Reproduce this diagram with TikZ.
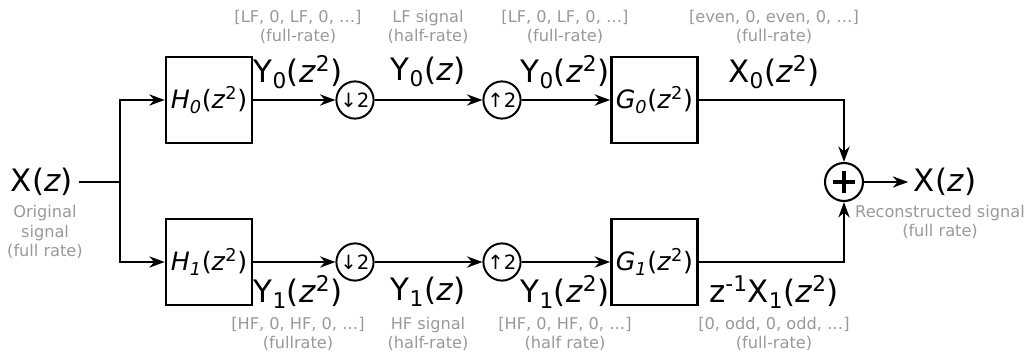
\documentclass[tikz,border=0pt]{standalone}
\usepackage{fontspec}
\setmainfont{DejaVu Sans}
\usetikzlibrary{arrows.meta,positioning}
\newcommand{\zv}{\textit{z}}
\newcommand{\zsq}{(\textit{z}\textsuperscript{2})}

\begin{document}
\begin{tikzpicture}[
  line width=1.5pt,
  flt/.style={draw,line width=1.8pt,minimum size=2.15cm,inner sep=0pt,font=\fontsize{18}{20}\selectfont},
  rate/.style={draw,circle,line width=1.4pt,minimum size=0.93cm,inner sep=0pt,font=\fontsize{14}{16}\selectfont},
  sig/.style={font=\fontsize{22}{25}\selectfont},
  note/.style={align=center,text=black!40,font=\fontsize{11.5}{14}\selectfont},
  sigarrow/.style={-{Stealth[length=11pt,width=8pt]}}
]
\useasboundingbox (0,0) rectangle (25.6,-8.9);

% input and split
\node[sig] (xin) at (1.05,-4.55) {X(\zv)};
\node[note] (xinnote) at (1.125,-5.8) {Original\\signal\\(full rate)};
\coordinate (split) at (3,-4.55);

% analysis filters, down- and upsamplers, synthesis filters
\node[flt] (h0) at (5.225,-2.5)  {\textit{H\textsubscript{0}}\zsq};
\node[flt] (h1) at (5.225,-6.55) {\textit{H\textsubscript{1}}\zsq};
\node[rate] (d0) at (8.875,-2.5)  {↓2};
\node[rate] (d1) at (8.875,-6.55) {↓2};
\node[rate] (u0) at (12.55,-2.5)  {↑2};
\node[rate] (u1) at (12.55,-6.55) {↑2};
\node[flt] (g0) at (16.36,-2.5)  {\textit{G\textsubscript{0}}\zsq};
\node[flt] (g1) at (16.36,-6.55) {\textit{G\textsubscript{1}}\zsq};

% summing junction and output
\node[draw,circle,line width=1.5pt,minimum size=0.95cm,inner sep=0pt] (sum) at (21.1,-4.55) {};
\draw[line width=3pt] ([xshift=-0.27cm]sum.center) -- ([xshift=0.27cm]sum.center);
\draw[line width=3pt] ([yshift=-0.27cm]sum.center) -- ([yshift=0.27cm]sum.center);
\node[sig] (xout) at (23.625,-4.55) {X(\zv)};
\node[note] (xoutnote) at (23.5,-5.55) {Reconstructed signal\\(full rate)};

% connectors
\draw (xin) -- (split);
\draw[sigarrow] (split) |- (h0);
\draw[sigarrow] (split) |- (h1);
\draw[sigarrow] (h0) -- (d0);
\draw[sigarrow] (h1) -- (d1);
\draw[sigarrow] (d0) -- (u0);
\draw[sigarrow] (d1) -- (u1);
\draw[sigarrow] (u0) -- (g0);
\draw[sigarrow] (u1) -- (g1);
\draw[sigarrow] (g0) -| (sum);
\draw[sigarrow] (g1) -| (sum);
\draw[sigarrow] (sum) -- (xout);

% signal labels, upper branch
\node[sig] (y0a) at (7.45,-1.8)  {Y\textsubscript{0}\zsq};
\node[sig] (y0b) at (10.7,-1.8)  {Y\textsubscript{0}(\zv)};
\node[sig] (y0c) at (14.125,-1.8) {Y\textsubscript{0}\zsq};
\node[sig] (x0)  at (19.35,-1.8) {X\textsubscript{0}\zsq};
\node[note] (n0a) at (7.45,-0.675)  {[LF, 0, LF, 0, …]\\(full-rate)};
\node[note] (n0b) at (10.7,-0.675)  {LF signal\\(half-rate)};
\node[note] (n0c) at (14.125,-0.675) {[LF, 0, LF, 0, …]\\(full-rate)};
\node[note] (n0d) at (19.35,-0.675) {[even, 0, even, 0, …]\\(full-rate)};

% signal labels, lower branch
\node[sig] (y1a) at (7.45,-7.3)  {Y\textsubscript{1}\zsq};
\node[sig] (y1b) at (10.7,-7.3)  {Y\textsubscript{1}(\zv)};
\node[sig] (y1c) at (14.125,-7.3) {Y\textsubscript{1}\zsq};
\node[sig] (x1)  at (19.35,-7.3) {z\textsuperscript{-1}X\textsubscript{1}\zsq};
\node[note] (n1a) at (7.45,-8.35)  {[HF, 0, HF, 0, …]\\(fullrate)};
\node[note] (n1b) at (10.7,-8.35)  {HF signal\\(half-rate)};
\node[note] (n1c) at (14.125,-8.35) {[HF, 0, HF, 0, …]\\(half rate)};
\node[note] (n1d) at (19.35,-8.35) {[0, odd, 0, odd, …]\\(full-rate)};
\end{tikzpicture}
\end{document}
